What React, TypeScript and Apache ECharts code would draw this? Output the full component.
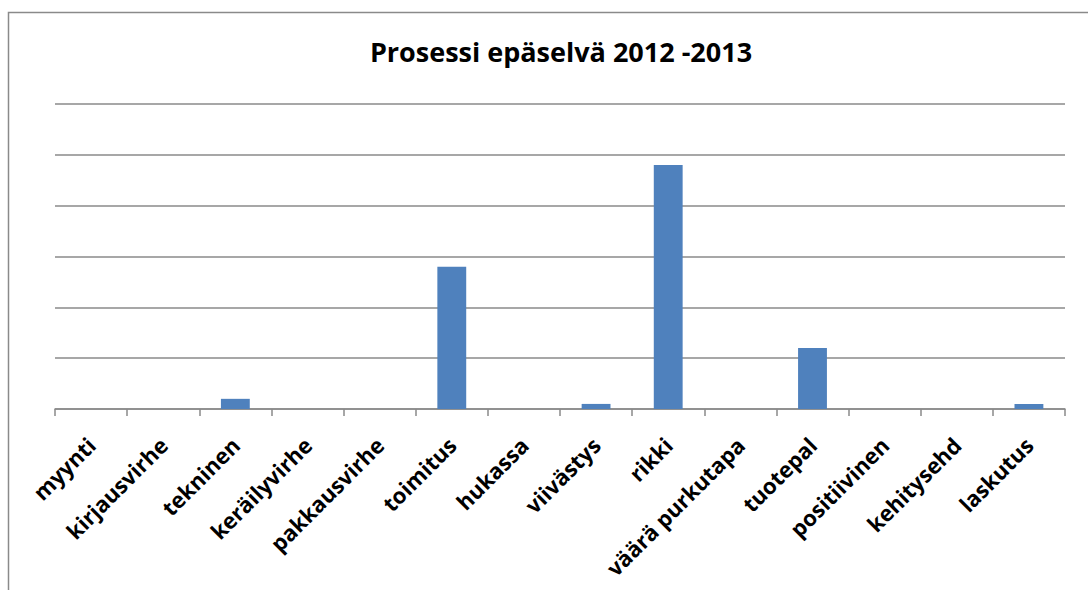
import React, { useEffect, useRef } from "react";
import * as echarts from "echarts";

const categories = [
  "myynti",
  "kirjausvirhe",
  "tekninen",
  "keräilyvirhe",
  "pakkausvirhe",
  "toimitus",
  "hukassa",
  "viivästys",
  "rikki",
  "väärä purkutapa",
  "tuotepal",
  "positiivinen",
  "kehitysehd",
  "laskutus",
];
const values = [0, 0, 2, 0, 0, 28, 0, 1, 48, 0, 12, 0, 0, 1];
const titleText = "Prosessi epäselvä 2012 -2013";

export default function App() {
  const ref = useRef<HTMLDivElement>(null);
  useEffect(() => {
    if (!ref.current) return;
    const chart = echarts.init(ref.current, null, { renderer: "svg" });
    chart.setOption({
      animation: false,
      backgroundColor: "#ffffff",
      title: {
        text: titleText,
        left: 556,
        top: 33,
        textAlign: "center",
        textStyle: {
          fontFamily: "Open Sans",
          fontWeight: "bold",
          fontSize: 27,
          color: "#000000",
        },
      },
      graphic: [
        {
          type: "rect",
          shape: { x: 8.5, y: 12.5, width: 1200, height: 700 },
          style: { fill: "none", stroke: "#8a8a8a", lineWidth: 1.5 },
          silent: true,
        },
      ],
      grid: { left: 55, right: 23, top: 104, bottom: 181, containLabel: false },
      xAxis: {
        type: "category",
        data: categories,
        boundaryGap: true,
        axisLine: { show: true, lineStyle: { color: "#8a8a8a", width: 1.5 } },
        axisTick: { show: true, length: 7, lineStyle: { color: "#8a8a8a", width: 1.5 } },
        axisLabel: {
          interval: 0,
          rotate: 45,
          margin: 32,
          fontFamily: "Open Sans",
          fontWeight: "bold",
          fontSize: 22,
          color: "#000000",
        },
      },
      yAxis: {
        type: "value",
        min: 0,
        max: 60,
        interval: 10,
        axisLabel: { show: false },
        axisLine: { show: false },
        axisTick: { show: false },
        splitLine: { show: true, lineStyle: { color: "#8a8a8a", width: 1.5 } },
      },
      series: [
        {
          type: "bar",
          data: values,
          barWidth: "40%",
          itemStyle: { color: "#4f81bd" },
        },
      ],
    });
    return () => chart.dispose();
  }, []);
  return (
    <div
      ref={ref}
      style={{ position: "fixed", left: 0, top: 0, width: 1088, height: 590 }}
    />
  );
}
